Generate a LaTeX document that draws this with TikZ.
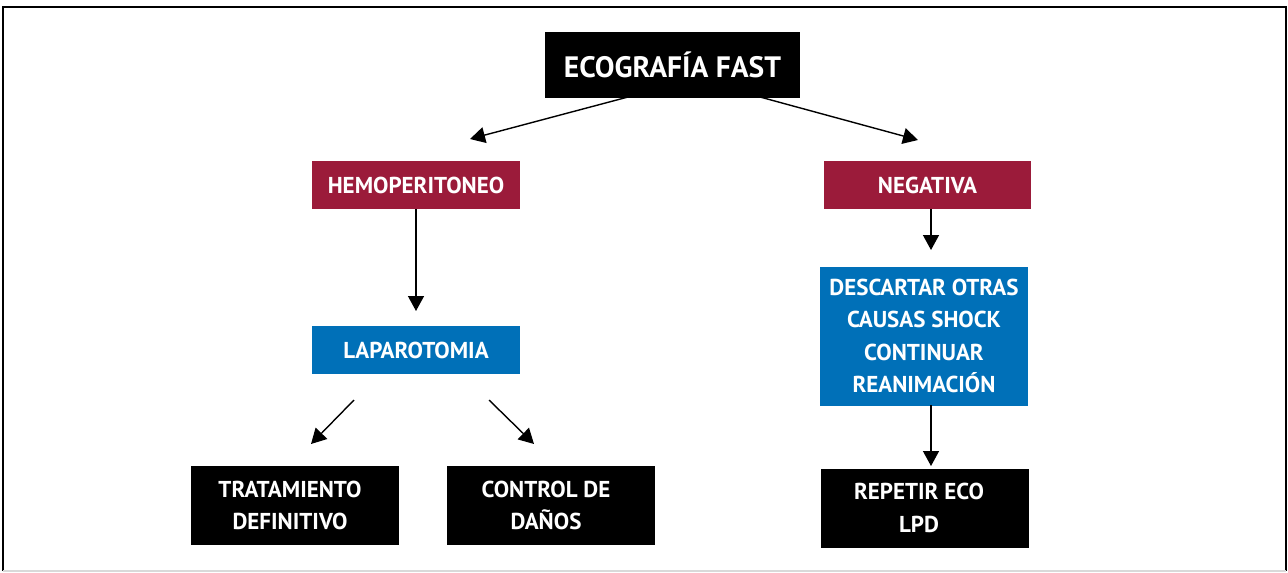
\documentclass[tikz,border=0pt]{standalone}
\usepackage{fontspec}
\setmainfont{PT Sans}
\usetikzlibrary{arrows.meta}
\definecolor{crim}{HTML}{9B1B3A}
\definecolor{blu}{HTML}{0070B8}
\tikzset{
  box/.style={rectangle, inner sep=0pt, text=white, font=\bfseries\fontsize{23}{32.5}\selectfont, align=center},
  txt/.style={inner sep=0pt, text=white, font=\bfseries\fontsize{23}{32.5}\selectfont, align=center},
  conn/.style={line width=1.4pt, -{Triangle[length=15pt,width=16pt]}},
}
\begin{document}
\begin{tikzpicture}[x=1pt,y=-1pt]
\useasboundingbox (0,0) rectangle (1288,573);
\draw[line width=1.6pt] (3,571) -- (3,7) -- (1286,7) -- (1286,571);
\draw[line width=1.4pt, black!15] (3,571) -- (1286,571);
% boxes
\node[box, fill=black, minimum width=255pt, minimum height=66pt, font=\bfseries\fontsize{29.5}{36}\selectfont] (eco) at (672.5,65) {ECOGRAFÍA FAST};
\node[box, fill=crim, minimum width=208pt, minimum height=48pt] (hemo) at (416,185) {HEMOPERITONEO};
\node[box, fill=crim, minimum width=207pt, minimum height=48pt] (neg) at (927.5,185) {NEGATIVA};
\node[box, fill=blu, minimum width=208pt, minimum height=48pt] (lap) at (416,350) {LAPAROTOMIA};
\node[box, fill=blu, minimum width=208pt, minimum height=139pt] (desc) at (924,336) {DESCARTAR OTRAS\\CAUSAS SHOCK\\CONTINUAR\\REANIMACIÓN};
\node[box, fill=black, minimum width=208pt, minimum height=79pt] (trat) at (295,505.5) {};
\node[txt] (trattxt) at (290,505.5) {TRATAMIENTO\\DEFINITIVO};
\node[box, fill=black, minimum width=208pt, minimum height=79pt] (ctrl) at (551,505.5) {};
\node[txt] (ctrltxt) at (546,505.5) {CONTROL DE\\DAÑOS};
\node[box, fill=black, minimum width=208pt, minimum height=79pt] (rep) at (925,508) {};
\node[txt] (reptxt) at (919,508) {REPETIR ECO\\LPD};
% connector endpoints
\coordinate (e1) at (628,97);
\coordinate (e1t) at (470,139);
\coordinate (e2) at (760,97);
\coordinate (e2t) at (918,140);
\coordinate (h1) at (416,209);
\coordinate (h1t) at (416,311);
\coordinate (n1) at (931,209);
\coordinate (n1t) at (931,250);
\coordinate (l1) at (354,400);
\coordinate (l1t) at (311,444);
\coordinate (l2) at (489,400);
\coordinate (l2t) at (534,444);
\coordinate (d1) at (931,405);
\coordinate (d1t) at (931,466);
\draw[conn] (e1) -- (e1t);
\draw[conn] (e2) -- (e2t);
\draw[conn] (h1) -- (h1t);
\draw[conn] (n1) -- (n1t);
\draw[conn] (l1) -- (l1t);
\draw[conn] (l2) -- (l2t);
\draw[conn] (d1) -- (d1t);
\end{tikzpicture}
\end{document}
